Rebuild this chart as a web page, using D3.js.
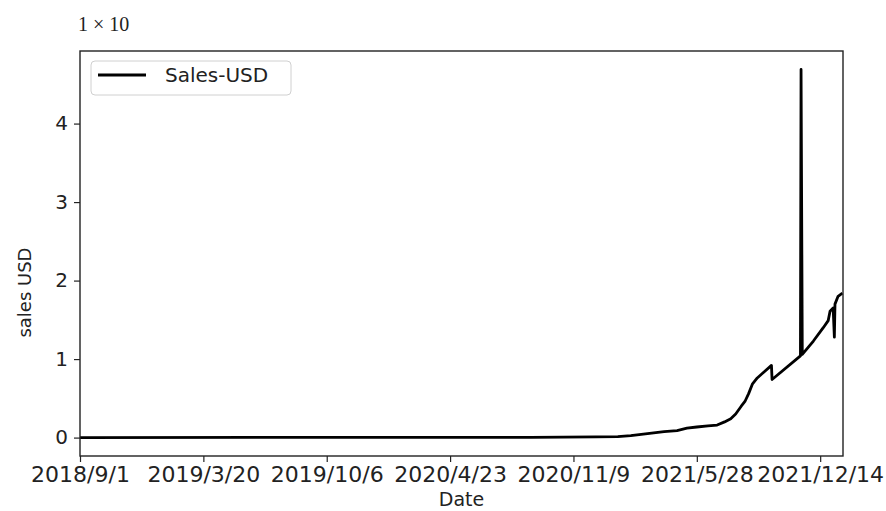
<!DOCTYPE html>
<html lang="en">
<head>
<meta charset="UTF-8">
<title>Sales-USD</title>
<script src="https://d3js.org/d3.v7.min.js"></script>
<style>
  body { margin: 0; background: #fff; }
  text { font-family: "DejaVu Sans", sans-serif; fill: #222; }
</style>
</head>
<body>
<div id="chart"></div>
<script>
// data (values in units of the "1 × 10" exponent)
const dates = ["2018-09-01", "2019-09-01", "2020-09-01", "2020-12-15", "2021-01-20", "2021-02-10",
  "2021-03-09", "2021-04-05", "2021-04-26", "2021-05-12", "2021-05-28", "2021-06-15", "2021-06-30",
  "2021-07-12", "2021-07-22", "2021-07-30", "2021-08-08", "2021-08-14", "2021-08-20", "2021-08-26",
  "2021-09-03", "2021-09-13", "2021-09-26", "2021-09-27", "2021-11-12", "2021-11-13", "2021-11-15",
  "2021-12-03", "2021-12-19", "2021-12-27", "2021-12-30", "2022-01-04", "2022-01-06", "2022-01-07",
  "2022-01-12", "2022-01-19"];
const sales = [0.0, 0.002, 0.004, 0.008, 0.012, 0.025,
  0.05, 0.075, 0.09, 0.12, 0.135, 0.15, 0.16,
  0.20, 0.24, 0.30, 0.40, 0.46, 0.56, 0.68,
  0.76, 0.83, 0.92, 0.74, 1.04, 4.69, 1.06,
  1.23, 1.40, 1.49, 1.61, 1.65, 1.28, 1.70,
  1.80, 1.84];
const xTickLabels = ["2018/9/1", "2019/3/20", "2019/10/6", "2020/4/23", "2020/11/9", "2021/5/28", "2021/12/14"];
const yTicks = [0, 1, 2, 3, 4];

const W = 886, H = 511;
const margin = { top: 51, right: 43, bottom: 55, left: 80 };
const width = W - margin.left - margin.right;
const height = H - margin.top - margin.bottom;

const parseIso = d3.utcParse("%Y-%m-%d");
const parseTick = s => { const p = s.split("/").map(Number); return new Date(Date.UTC(p[0], p[1] - 1, p[2])); };
const data = dates.map((d, i) => ({ date: parseIso(d), value: sales[i] }));

const svg = d3.select("#chart").append("svg")
    .attr("width", W)
    .attr("height", H);

const g = svg.append("g")
    .attr("transform", `translate(${margin.left},${margin.top})`);

// x runs from the first tick to ~37 days after the last tick
const xStart = parseTick(xTickLabels[0]);
const xEnd = d3.utcDay.offset(xStart, 1237.6);
const x = d3.scaleUtc().domain([xStart, xEnd]).range([0, width]);

const yMax = d3.max(sales), yMin = d3.min(sales);
const pad = (yMax - yMin) * 0.05;
const y = d3.scaleLinear().domain([yMin - pad, yMax + pad]).range([height, 0]);

// axes
const xAxis = g.append("g")
    .attr("transform", `translate(0,${height})`)
    .call(d3.axisBottom(x)
        .tickValues(xTickLabels.map(parseTick))
        .tickFormat((d, i) => xTickLabels[i])
        .tickSize(6)
        .tickPadding(4));
xAxis.selectAll("text").style("font-size", "22px").attr("fill", "#222");

const yAxis = g.append("g")
    .call(d3.axisLeft(y)
        .tickValues(yTicks)
        .tickFormat(d3.format("d"))
        .tickSize(6)
        .tickPadding(6));
yAxis.selectAll("text").style("font-size", "20px").attr("fill", "#222");

g.selectAll(".domain").remove();
g.selectAll(".tick line").attr("stroke", "#222").attr("stroke-width", 1.2);

// line
g.append("path")
    .datum(data)
    .attr("fill", "none")
    .attr("stroke", "#000")
    .attr("stroke-width", 2.8)
    .attr("stroke-linejoin", "round")
    .attr("d", d3.line().x(d => x(d.date)).y(d => y(d.value)));

// frame
g.append("rect")
    .attr("width", width)
    .attr("height", height)
    .attr("fill", "none")
    .attr("stroke", "#222")
    .attr("stroke-width", 1.4);

// labels
g.append("text")
    .attr("x", width / 2)
    .attr("y", height + 50)
    .attr("text-anchor", "middle")
    .style("font-size", "19px")
    .text("Date");

g.append("text")
    .attr("transform", "rotate(-90)")
    .attr("x", -(y(2) + 12))
    .attr("y", -49)
    .attr("text-anchor", "middle")
    .style("font-size", "18px")
    .attr("fill", "#333")
    .text("sales USD");

// offset text above the axes
svg.append("text")
    .attr("x", 78)
    .attr("y", 31)
    .style("font-family", "'Liberation Serif', 'DejaVu Serif', serif")
    .style("font-size", "20px")
    .text("1 × 10");

// legend
const legend = g.append("g").attr("transform", "translate(11,10)");
legend.append("rect")
    .attr("width", 200)
    .attr("height", 34)
    .attr("rx", 4)
    .attr("fill", "#fff")
    .attr("fill-opacity", 0.8)
    .attr("stroke", "#d0d0d0")
    .attr("stroke-width", 1);
legend.append("line")
    .attr("x1", 7).attr("x2", 55)
    .attr("y1", 14).attr("y2", 14)
    .attr("stroke", "#000")
    .attr("stroke-width", 2.8);
legend.append("text")
    .attr("x", 74)
    .attr("y", 21)
    .style("font-size", "20px")
    .text("Sales-USD");
</script>
</body>
</html>
